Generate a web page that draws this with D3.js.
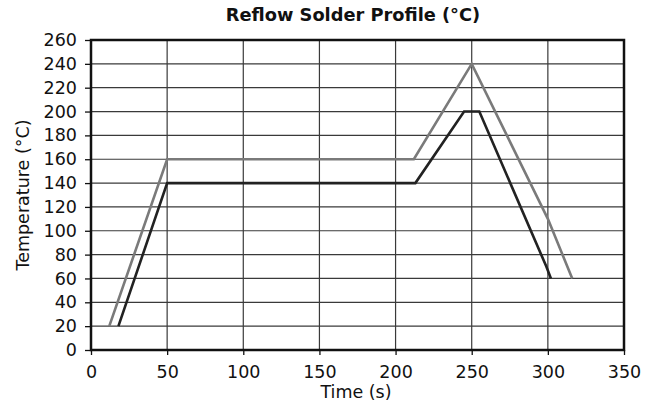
<!DOCTYPE html>
<html>
<head>
<meta charset="utf-8">
<script src="https://cdn.jsdelivr.net/npm/d3@7"></script>
<style>
  html, body { margin: 0; padding: 0; background: #fff; }
  svg { display: block; font-family: "DejaVu Sans", sans-serif; }
</style>
</head>
<body>
<svg id="chart" width="655" height="414"></svg>
<script>
// Data
const upperTime = [12, 50, 212, 250, 300, 316];
const upperTemp = [20, 160, 160, 240, 110, 60];
const lowerTime = [18, 50, 213, 245, 255, 299, 302];
const lowerTemp = [20, 140, 140, 200, 200, 70, 60];
const xTicks = [0, 50, 100, 150, 200, 250, 300, 350];
const yTicks = [0, 20, 40, 60, 80, 100, 120, 140, 160, 180, 200, 220, 240, 260];

const svg = d3.select("#chart");
const m = { left: 91, right: 624, top: 40, bottom: 350 };

const x = d3.scaleLinear().domain([0, 350]).range([m.left, m.right]);
const y = d3.scaleLinear().domain([0, 260]).range([m.bottom, m.top]);

// grid
const grid = svg.append("g");
grid.selectAll("line.v").data(xTicks.slice(1, -1)).enter().append("line")
  .attr("x1", d => x(d)).attr("x2", d => x(d))
  .attr("y1", m.top).attr("y2", m.bottom)
  .attr("stroke", "#3a3a3a").attr("stroke-width", 1.2);
grid.selectAll("line.h").data(yTicks.slice(1, -1)).enter().append("line")
  .attr("y1", d => y(d)).attr("y2", d => y(d))
  .attr("x1", m.left).attr("x2", m.right)
  .attr("stroke", "#3a3a3a").attr("stroke-width", 1.2);

// axes
const xAxis = d3.axisBottom(x).tickValues(xTicks).tickSize(5).tickPadding(11).tickFormat(d3.format("d"));
const yAxis = d3.axisLeft(y).tickValues(yTicks).tickSize(6).tickPadding(8).tickFormat(d3.format("d"));

const gx = svg.append("g").attr("transform", `translate(0,${m.bottom})`).call(xAxis);
const gy = svg.append("g").attr("transform", `translate(${m.left},0)`).call(yAxis);
[gx, gy].forEach(g => {
  g.select(".domain").remove();
  g.selectAll(".tick line").attr("stroke", "#111").attr("stroke-width", 1.3);
  g.selectAll(".tick text").attr("fill", "#111").attr("font-size", 17.5)
    .attr("font-family", "'DejaVu Sans', sans-serif");
});

// lines
const line = d3.line().x(d => x(d[0])).y(d => y(d[1]));
const upper = upperTime.map((t, i) => [t, upperTemp[i]]);
const lower = lowerTime.map((t, i) => [t, lowerTemp[i]]);

svg.append("path").attr("d", line(upper)).attr("fill", "none")
  .attr("stroke", "#7a7a7a").attr("stroke-width", 2.6).attr("stroke-linejoin", "miter");
svg.append("path").attr("d", line(lower)).attr("fill", "none")
  .attr("stroke", "#222").attr("stroke-width", 2.6).attr("stroke-linejoin", "miter");

// frame
svg.append("rect").attr("x", m.left).attr("y", m.top)
  .attr("width", m.right - m.left).attr("height", m.bottom - m.top)
  .attr("fill", "none").attr("stroke", "#111").attr("stroke-width", 2.5);

// titles
svg.append("text").attr("x", 353).attr("y", 20.5).attr("text-anchor", "middle")
  .attr("font-size", 17.8).attr("font-weight", "bold").attr("fill", "#111")
  .text("Reflow Solder Profile (°C)");
svg.append("text").attr("x", 356).attr("y", 398).attr("text-anchor", "middle")
  .attr("font-size", 17.5).attr("fill", "#111").text("Time (s)");
svg.append("text").attr("transform", `translate(29,195) rotate(-90)`)
  .attr("text-anchor", "middle").attr("font-size", 17.5).attr("fill", "#111")
  .text("Temperature (°C)");
</script>
</body>
</html>
